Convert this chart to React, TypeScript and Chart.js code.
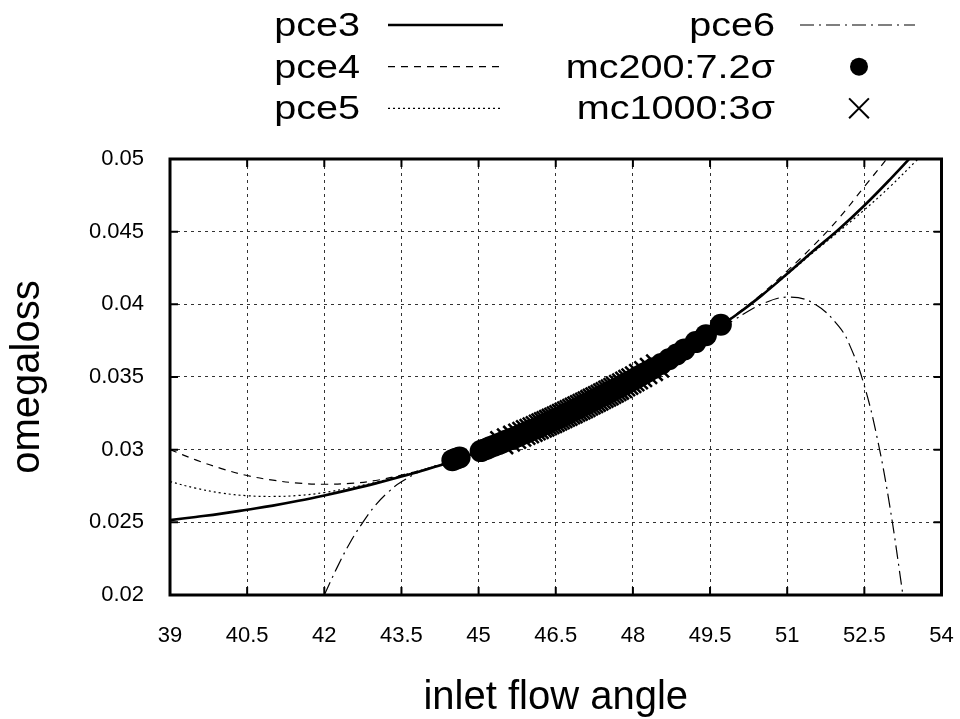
import React, { useEffect, useRef } from 'react';
import { Chart, registerables } from 'chart.js';

Chart.register(...registerables);

const FONT = "'Liberation Sans', Arial, Helvetica, sans-serif";

// ---- axes ----
const xTickValues = [39, 40.5, 42, 43.5, 45, 46.5, 48, 49.5, 51, 52.5, 54];
const xTickLabels = ['39', '40.5', '42', '43.5', '45', '46.5', '48', '49.5', '51', '52.5', '54'];
const yTickValues = [0.02, 0.025, 0.03, 0.035, 0.04, 0.045, 0.05];
const yTickLabels = ['0.02', '0.025', '0.03', '0.035', '0.04', '0.045', '0.05'];
const xTitle = 'inlet flow angle';
const yTitle = 'omegaloss';

// ---- series labels ----
const seriesLabels = ['pce3', 'pce4', 'pce5', 'pce6', 'mc200:7.2\u03c3', 'mc1000:3\u03c3'];

// ---- pce curves ----
const pceX = [39, 39.5, 40, 40.5, 41, 41.5, 42, 42.5, 43, 43.5, 44, 44.5, 45, 45.5, 46, 46.5, 47, 47.5, 48, 48.5, 49, 49.5, 50, 50.5, 51, 51.5, 52, 52.5, 53, 53.5, 54];
const pce3Y = [0.02515, 0.02537, 0.0256, 0.02587, 0.02615, 0.02648, 0.02685, 0.02725, 0.02768, 0.02815, 0.02866, 0.0292, 0.02985, 0.03055, 0.0313, 0.0321, 0.03295, 0.03385, 0.0348, 0.0358, 0.0369, 0.03805, 0.03925, 0.0406, 0.0421, 0.04365, 0.04515, 0.0468, 0.0486, 0.0505, 0.0525];
const pce4Y = [0.03, 0.0293, 0.0287, 0.02822, 0.0279, 0.0277, 0.02762, 0.02768, 0.02788, 0.02825, 0.0287, 0.02922, 0.02985, 0.03055, 0.0313, 0.0321, 0.03295, 0.03385, 0.0348, 0.0358, 0.0369, 0.03805, 0.0393, 0.0407, 0.0423, 0.044, 0.0459, 0.0481, 0.0503, 0.0527, 0.0552];
const pce5Y = [0.0278, 0.02735, 0.02702, 0.02683, 0.02678, 0.02685, 0.02705, 0.02738, 0.02775, 0.02822, 0.0287, 0.02922, 0.02985, 0.03055, 0.0313, 0.0321, 0.03295, 0.03385, 0.0348, 0.0358, 0.0369, 0.03805, 0.03925, 0.0406, 0.04205, 0.04355, 0.045, 0.0465, 0.0481, 0.04985, 0.0516];
const pce6X = [42, 42.25, 42.5, 42.75, 43, 43.25, 43.5, 44, 44.5, 45, 45.5, 46, 46.5, 47, 47.5, 48, 48.5, 49, 49.5, 50, 50.5, 51, 51.5, 52, 52.25, 52.5, 52.75, 53, 53.25];
const pce6Y = [0.02, 0.0219, 0.0236, 0.025, 0.0262, 0.0271, 0.0278, 0.0287, 0.0292, 0.02985, 0.03055, 0.0313, 0.0321, 0.03295, 0.03385, 0.0348, 0.0358, 0.0369, 0.0379, 0.039, 0.04, 0.0405, 0.0401, 0.0385, 0.0369, 0.0344, 0.0308, 0.026, 0.02];

// ---- Monte Carlo samples ----
const mc200X = [44.49, 44.56, 44.63, 45.04, 45.1, 45.16, 45.22, 45.3, 45.38, 45.45, 45.52, 45.6, 45.68, 45.75, 45.82, 45.9, 45.97, 46.05, 46.12, 46.2, 46.28, 46.35, 46.42, 46.5, 46.58, 46.65, 46.72, 46.8, 46.88, 46.95, 47.02, 47.1, 47.18, 47.25, 47.32, 47.4, 47.48, 47.55, 47.62, 47.7, 47.78, 47.85, 47.92, 48.0, 48.08, 48.15, 48.22, 48.3, 48.4, 48.55, 48.7, 48.85, 49.0, 49.22, 49.42, 49.71];
const mc200Y = [0.02928, 0.02937, 0.02946, 0.0299, 0.02999, 0.03007, 0.03016, 0.03027, 0.03038, 0.03048, 0.03059, 0.0307, 0.03081, 0.03091, 0.03102, 0.03114, 0.03125, 0.03137, 0.03148, 0.0316, 0.03173, 0.03185, 0.03197, 0.0321, 0.03223, 0.03236, 0.03248, 0.03262, 0.03276, 0.03288, 0.03302, 0.03316, 0.0333, 0.03343, 0.03356, 0.0337, 0.03384, 0.03397, 0.0341, 0.03424, 0.03439, 0.03452, 0.03465, 0.0348, 0.03496, 0.0351, 0.03524, 0.0354, 0.0356, 0.0359, 0.03622, 0.03655, 0.0369, 0.0374, 0.03788, 0.0386];
const mc1000X = [45.45, 45.58, 45.7, 45.8, 45.88, 45.95, 46.02, 46.08, 46.14, 46.2, 46.25, 46.3, 46.35, 46.4, 46.45, 46.5, 46.55, 46.6, 46.65, 46.7, 46.75, 46.8, 46.85, 46.9, 46.95, 47.0, 47.05, 47.1, 47.15, 47.2, 47.25, 47.3, 47.35, 47.4, 47.45, 47.5, 47.55, 47.6, 47.65, 47.7, 47.76, 47.82, 47.88, 47.94, 48.0, 48.07, 48.15, 48.25, 48.36, 48.48];
const mc1000Y = [0.03048, 0.03067, 0.03085, 0.031, 0.03112, 0.03123, 0.03133, 0.03143, 0.03152, 0.03162, 0.0317, 0.03178, 0.03186, 0.03194, 0.03202, 0.0321, 0.03219, 0.03227, 0.03236, 0.03244, 0.03253, 0.03261, 0.0327, 0.03278, 0.03287, 0.03295, 0.03304, 0.03313, 0.03322, 0.03331, 0.0334, 0.03349, 0.03358, 0.03367, 0.03376, 0.03385, 0.03395, 0.03404, 0.03414, 0.03423, 0.03435, 0.03446, 0.03457, 0.03469, 0.0348, 0.03494, 0.0351, 0.0353, 0.03552, 0.03576];

const toPts = (xs: number[], ys: number[]) => xs.map((x, i) => ({ x, y: ys[i] }));

const framePlugin = {
  id: 'gpFrame',
  afterDraw(chart: any) {
    const { ctx, chartArea: a, scales } = chart;
    const sx = scales.x;
    const sy = scales.y;
    ctx.save();
    ctx.setLineDash([]);
    ctx.strokeStyle = '#000';
    ctx.lineWidth = 2;
    const L = 8;
    ctx.beginPath();
    sx.ticks.forEach((t: any) => {
      if (t.value <= sx.min || t.value >= sx.max) return;
      const px = sx.getPixelForValue(t.value);
      ctx.moveTo(px, a.bottom);
      ctx.lineTo(px, a.bottom - L);
      ctx.moveTo(px, a.top);
      ctx.lineTo(px, a.top + L);
    });
    sy.ticks.forEach((t: any) => {
      if (t.value <= sy.min + 1e-9 || t.value >= sy.max - 1e-9) return;
      const py = sy.getPixelForValue(t.value);
      ctx.moveTo(a.left, py);
      ctx.lineTo(a.left + L, py);
      ctx.moveTo(a.right, py);
      ctx.lineTo(a.right - L, py);
    });
    ctx.stroke();
    ctx.lineWidth = 3;
    ctx.strokeRect(a.left, a.top, a.right - a.left, a.bottom - a.top);
    ctx.restore();
  },
};

const legendPlugin = {
  id: 'gpLegend',
  afterDraw(chart: any) {
    const { ctx } = chart;
    const ds = chart.data.datasets;
    const rows = [25, 66.7, 108.3];
    const cols = [
      { textRight: 360, s0: 388, s1: 503 },
      { textRight: 775, s0: 800, s1: 915 },
    ];
    ctx.save();
    ds.forEach((d: any, i: number) => {
      const c = cols[Math.floor(i / 3)];
      const y = rows[i % 3];
      ctx.save();
      ctx.translate(c.textRight, y + 2);
      ctx.scale(1.2, 1);
      ctx.font = `33px ${FONT}`;
      ctx.fillStyle = '#000';
      ctx.textAlign = 'right';
      ctx.textBaseline = 'middle';
      ctx.fillText(d.label, 0, 0);
      ctx.restore();
      ctx.strokeStyle = '#000';
      ctx.fillStyle = '#000';
      if (d.type === 'line') {
        ctx.lineWidth = d.borderWidth;
        ctx.setLineDash(d.borderDash || []);
        ctx.beginPath();
        ctx.moveTo(c.s0, y);
        ctx.lineTo(c.s1, y);
        ctx.stroke();
        ctx.setLineDash([]);
      } else {
        const cx = 859;
        const r = d.pointStyle === 'circle' ? 9 : 14;
        if (d.pointStyle === 'circle') {
          ctx.beginPath();
          ctx.arc(cx, y, r, 0, Math.PI * 2);
          ctx.fill();
        } else {
          const h = r * Math.SQRT1_2;
          ctx.lineWidth = 2;
          ctx.beginPath();
          ctx.moveTo(cx - h, y - h);
          ctx.lineTo(cx + h, y + h);
          ctx.moveTo(cx - h, y + h);
          ctx.lineTo(cx + h, y - h);
          ctx.stroke();
        }
      }
    });
    ctx.restore();
  },
};

export default function App() {
  const canvasRef = useRef<HTMLCanvasElement | null>(null);

  useEffect(() => {
    if (!canvasRef.current) return;
    const lineBase = {
      type: 'line',
      borderColor: '#000',
      backgroundColor: '#000',
      pointRadius: 0,
      fill: false,
      tension: 0.4,
      clip: 0,
    };
    const chart = new Chart(canvasRef.current, {
      type: 'scatter',
      data: {
        datasets: [
          { ...lineBase, label: seriesLabels[0], data: toPts(pceX, pce3Y), borderWidth: 2.6, borderDash: [], order: 4 },
          { ...lineBase, label: seriesLabels[1], data: toPts(pceX, pce4Y), borderWidth: 1.2, borderDash: [7, 6], order: 5 },
          { ...lineBase, label: seriesLabels[2], data: toPts(pceX, pce5Y), borderWidth: 1.2, borderDash: [2, 3], order: 6 },
          { ...lineBase, label: seriesLabels[3], data: toPts(pce6X, pce6Y), borderWidth: 1.2, borderDash: [14, 5, 2, 5], order: 7 },
          {
            type: 'scatter', label: seriesLabels[4], data: toPts(mc200X, mc200Y), showLine: false,
            pointStyle: 'circle', pointRadius: 11, backgroundColor: '#000', borderColor: '#000', borderWidth: 0, order: 2, clip: 0,
          },
          {
            type: 'scatter', label: seriesLabels[5], data: toPts(mc1000X, mc1000Y), showLine: false,
            pointStyle: 'crossRot', pointRadius: 16, backgroundColor: '#000', borderColor: '#000', borderWidth: 2.5, order: 1, clip: 0,
          },
        ] as any,
      },
      options: {
        responsive: false,
        animation: false,
        events: [],
        layout: { padding: { top: 159, right: 18, left: 0, bottom: 0 } },
        plugins: { legend: { display: false }, tooltip: { enabled: false } },
        scales: {
          x: {
            type: 'linear',
            position: 'bottom',
            min: 39,
            max: 54,
            afterBuildTicks: (s: any) => { s.ticks = xTickValues.map((v) => ({ value: v })); },
            afterFit: (s: any) => { s.height = 124; s.paddingLeft = 0; s.paddingRight = 0; },
            grid: { color: '#333', lineWidth: 1, drawTicks: false },
            border: { display: false, dash: [3, 4] },
            ticks: {
              color: '#000',
              font: { family: FONT, size: 22 },
              padding: 28,
              maxRotation: 0,
              autoSkip: false,
              callback: (_v: any, i: number) => xTickLabels[i],
            },
            title: { display: true, text: xTitle, color: '#000', font: { family: FONT, size: 40, lineHeight: 1.05 }, padding: 0 },
          },
          y: {
            type: 'linear',
            min: 0.02,
            max: 0.05,
            afterBuildTicks: (s: any) => { s.ticks = yTickValues.map((v) => ({ value: v })); },
            afterFit: (s: any) => { s.width = 170; s.paddingTop = 0; s.paddingBottom = 0; },
            grid: { color: '#333', lineWidth: 1, drawTicks: false },
            border: { display: false, dash: [3, 4] },
            ticks: {
              color: '#000',
              font: { family: FONT, size: 22 },
              padding: 26,
              autoSkip: false,
              callback: (_v: any, i: number) => yTickLabels[i],
            },
            title: { display: true, text: yTitle, color: '#000', font: { family: FONT, size: 40 }, padding: { top: 4, bottom: 0 } },
          },
        },
      } as any,
      plugins: [framePlugin, legendPlugin],
    });
    return () => chart.destroy();
  }, []);

  return (
    <div style={{ position: 'absolute', left: 0, top: 0, width: 960, height: 719, background: '#fff' }}>
      <canvas ref={canvasRef} width={960} height={719} style={{ display: 'block' }} />
    </div>
  );
}
